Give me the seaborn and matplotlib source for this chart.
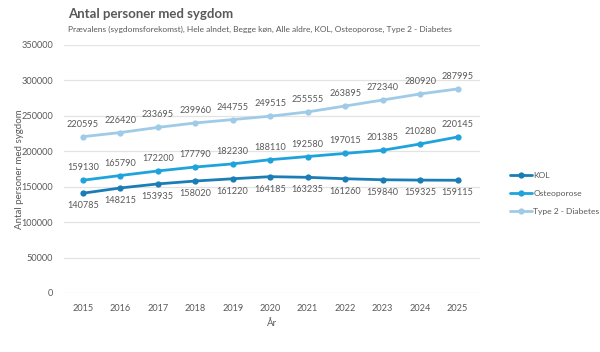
import pandas as pd
import matplotlib.pyplot as plt
import seaborn as sns

# Data
years = [2015, 2016, 2017, 2018, 2019, 2020, 2021, 2022, 2023, 2024, 2025]
kol = [140785, 148215, 153935, 158020, 161220, 164185, 163235, 161260, 159840, 159325, 159115]
osteoporose = [159130, 165790, 172200, 177790, 182230, 188110, 192580, 197015, 201385, 210280, 220145]
diabetes = [220595, 226420, 233695, 239960, 244755, 249515, 255555, 263895, 272340, 280920, 287995]
series_names = ["KOL", "Osteoporose", "Type 2 - Diabetes"]
colors = ["#1b7db5", "#1fa3dc", "#9fcbe8"]

df = pd.DataFrame({
    "År": years * 3,
    "value": kol + osteoporose + diabetes,
    "Sygdom": [n for n in series_names for _ in years],
})

sns.set_style("white")
plt.rcParams['font.family'] = ['Lato', 'DejaVu Sans']
text_col = "#595959"

fig = plt.figure(figsize=(6, 3.52), dpi=100)
ax = fig.add_axes([64 / 600, 1 - 293 / 352, 416 / 600, 248 / 352])

sns.lineplot(data=df, x="År", y="value", hue="Sygdom", palette=colors,
             marker="o", markersize=4.5, markeredgewidth=0, linewidth=2,
             ax=ax)

# data labels
for vals, name in zip([kol, osteoporose, diabetes], series_names):
    off = -9 if name == "KOL" else 9
    for x, v in zip(years, vals):
        ax.annotate(str(v), (x, v), xytext=(0, off), textcoords="offset points",
                    ha="center", va="center", fontsize=6.6, color=text_col)

ax.set_ylim(0, 350000)
ax.set_xlim(2014.5, 2025.6)
ax.set_xticks(years)
ax.set_yticks(range(0, 350001, 50000))
ax.tick_params(axis="both", labelsize=6.6, colors=text_col, length=0, pad=8)
ax.yaxis.grid(True, color="#e3e3e3", linewidth=0.9)
ax.set_axisbelow(True)
for s in ax.spines.values():
    s.set_visible(False)

ax.set_xlabel("År", fontsize=7, color=text_col, labelpad=4)
ax.set_ylabel("Antal personer med sygdom", fontsize=7, color=text_col, labelpad=-2)

ax.legend(loc="upper left", bbox_to_anchor=(510 / 600, 1 - 172 / 352),
          bbox_transform=fig.transFigure, frameon=False, fontsize=6.1,
          labelcolor=text_col, handlelength=2.6, handletextpad=0.15,
          labelspacing=1.3, borderaxespad=0, borderpad=0)

fig.text(68 / 600, 1 - 14 / 352, "Antal personer med sygdom", fontsize=9.5,
         fontweight="bold", color=text_col, va="center")
fig.text(68 / 600, 1 - 29 / 352,
         "Prævalens (sygdomsforekomst), Hele alndet, Begge køn, Alle aldre, KOL, Osteoporose, Type 2 - Diabetes",
         fontsize=6, color=text_col, va="center")

fig.savefig("out.png", dpi=100)
